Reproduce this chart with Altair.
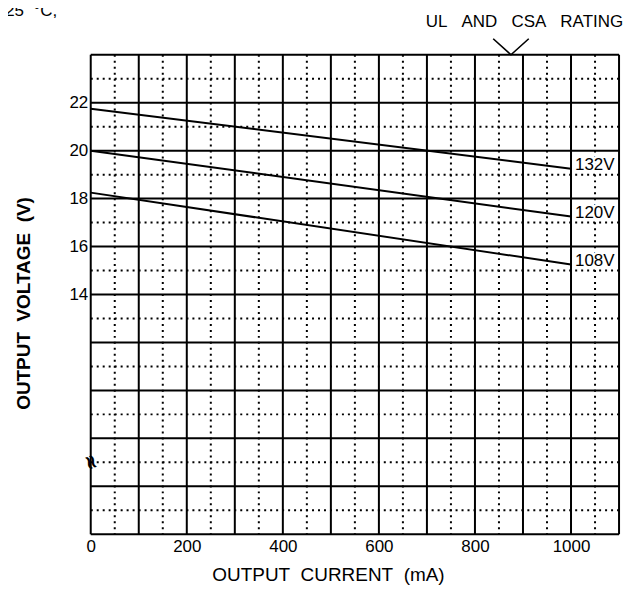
import altair as alt
import pandas as pd

# ---- data ----
current = [0, 1000]
v132 = [21.75, 19.25]
v120 = [20.0, 17.25]
v108 = [18.25, 15.25]
series_names = ["132V", "120V", "108V"]

major_x = list(range(0, 1101, 100))
minor_x = list(range(50, 1100, 100))
major_y = list(range(4, 25, 2))
minor_y = list(range(5, 24, 2))
x_ticks = [0, 200, 400, 600, 800, 1000]
y_ticks = [14, 16, 18, 20, 22]

# annotations
rating_text = ["UL\u00a0\u00a0\u00a0AND\u00a0\u00a0\u00a0CSA\u00a0\u00a0\u00a0RATING"]
rating_x = [903]
rating_y = [25.16]
arrow_x = [838, 875, 912]
arrow_y = [24.67, 24.0, 24.67]
temp_text = ["=\u00a025\u00a0\u00a0\u00b0C,"]
temp_x = [-70]
temp_y = [25.6]
break_x = [0]
break_y = [7]

FONT = "Liberation Sans"

lines_df = pd.DataFrame({
    "current": current * 3,
    "voltage": v132 + v120 + v108,
    "series": [s for s in series_names for _ in current],
})
labels_df = pd.DataFrame({
    "current": [current[-1]] * 3,
    "voltage": [v132[-1], v120[-1], v108[-1]],
    "text": series_names,
})

xs = alt.Scale(domain=[0, 1100], nice=False, zero=False)
ys = alt.Scale(domain=[4, 24], nice=False, zero=False)

X_AX = alt.Axis(
    values=x_ticks, format="d", grid=False, ticks=False, domain=False,
    labelFont=FONT, labelFontSize=17, labelColor="black", labelPadding=4,
    labelFlush=False,
    title="OUTPUT\u00a0\u00a0CURRENT\u00a0\u00a0(mA)",
    titleFont=FONT, titleFontSize=19, titleFontWeight="normal", titleColor="black",
    titleX=238, titleY=46, titleAlign="center", titleBaseline="alphabetic",
)
Y_AX = alt.Axis(
    values=y_ticks, format="d", grid=False, ticks=False, domain=False,
    labelFont=FONT, labelFontSize=17, labelColor="black", labelPadding=3,
    labelFlush=False,
    title="OUTPUT\u00a0\u00a0VOLTAGE\u00a0\u00a0(V)",
    titleFont=FONT, titleFontSize=19, titleFontWeight="bold", titleColor="black",
    titleAngle=270, titleX=-67, titleY=249, titleAlign="center", titleBaseline="middle",
)


def X(field):
    return alt.X(field, scale=xs, axis=X_AX)


def Y(field):
    return alt.Y(field, scale=ys, axis=Y_AX)


minor_v = alt.Chart(pd.DataFrame({"v": minor_x})).mark_rule(
    color="black", strokeWidth=2, strokeDash=[2, 4]
).encode(x=X("v:Q"))
minor_h = alt.Chart(pd.DataFrame({"v": minor_y})).mark_rule(
    color="black", strokeWidth=2, strokeDash=[2, 4]
).encode(y=Y("v:Q"))
major_v = alt.Chart(pd.DataFrame({"v": major_x})).mark_rule(
    color="black", strokeWidth=2
).encode(x=X("v:Q"))
major_h = alt.Chart(pd.DataFrame({"v": major_y})).mark_rule(
    color="black", strokeWidth=2
).encode(y=Y("v:Q"))

lines = alt.Chart(lines_df).mark_line(color="black", strokeWidth=2).encode(
    x=X("current:Q"), y=Y("voltage:Q"), detail="series:N",
)

label_halo = alt.Chart(labels_df).mark_text(
    align="left", baseline="alphabetic", dx=4, dy=1, font=FONT, fontSize=17,
    color="white", stroke="white", strokeWidth=5, strokeJoin="round"
).encode(x=X("current:Q"), y=Y("voltage:Q"), text="text:N")

labels = alt.Chart(labels_df).mark_text(
    align="left", baseline="alphabetic", dx=4, dy=1, font=FONT, fontSize=17, color="black"
).encode(x=X("current:Q"), y=Y("voltage:Q"), text="text:N")

rating = alt.Chart(pd.DataFrame({"x": rating_x, "y": rating_y, "t": rating_text})).mark_text(
    align="center", baseline="alphabetic", font=FONT, fontSize=17, color="black"
).encode(x=X("x:Q"), y=Y("y:Q"), text="t:N")

arrow = alt.Chart(pd.DataFrame({"x": arrow_x, "y": arrow_y, "o": [0, 1, 2]})).mark_line(
    color="black", strokeWidth=1.6
).encode(x=X("x:Q"), y=Y("y:Q"), order="o:Q")

temp = alt.Chart(pd.DataFrame({"x": temp_x, "y": temp_y, "t": temp_text})).mark_text(
    align="right", baseline="alphabetic", font=FONT, fontSize=17, color="black"
).encode(x=X("x:Q"), y=Y("y:Q"), text="t:N")

brk = alt.Chart(pd.DataFrame({"x": break_x, "y": break_y, "t": ["\u2248"]})).mark_text(
    align="center", baseline="middle", font="DejaVu Sans", fontSize=20, angle=70,
    color="black", fontWeight="bold"
).encode(x=X("x:Q"), y=Y("y:Q"), text="t:N")

chart = alt.layer(
    minor_v, minor_h, major_v, major_h, lines, label_halo, labels, rating, arrow, temp, brk
).properties(
    width=530, height=481,
    autosize=alt.AutoSizeParams(type="none"),
    padding={"left": 83, "top": 46, "right": 12, "bottom": 52},
    background="white",
).configure_view(stroke=None)

chart.save("out.html", embed_options={"renderer": "svg", "actions": False})
